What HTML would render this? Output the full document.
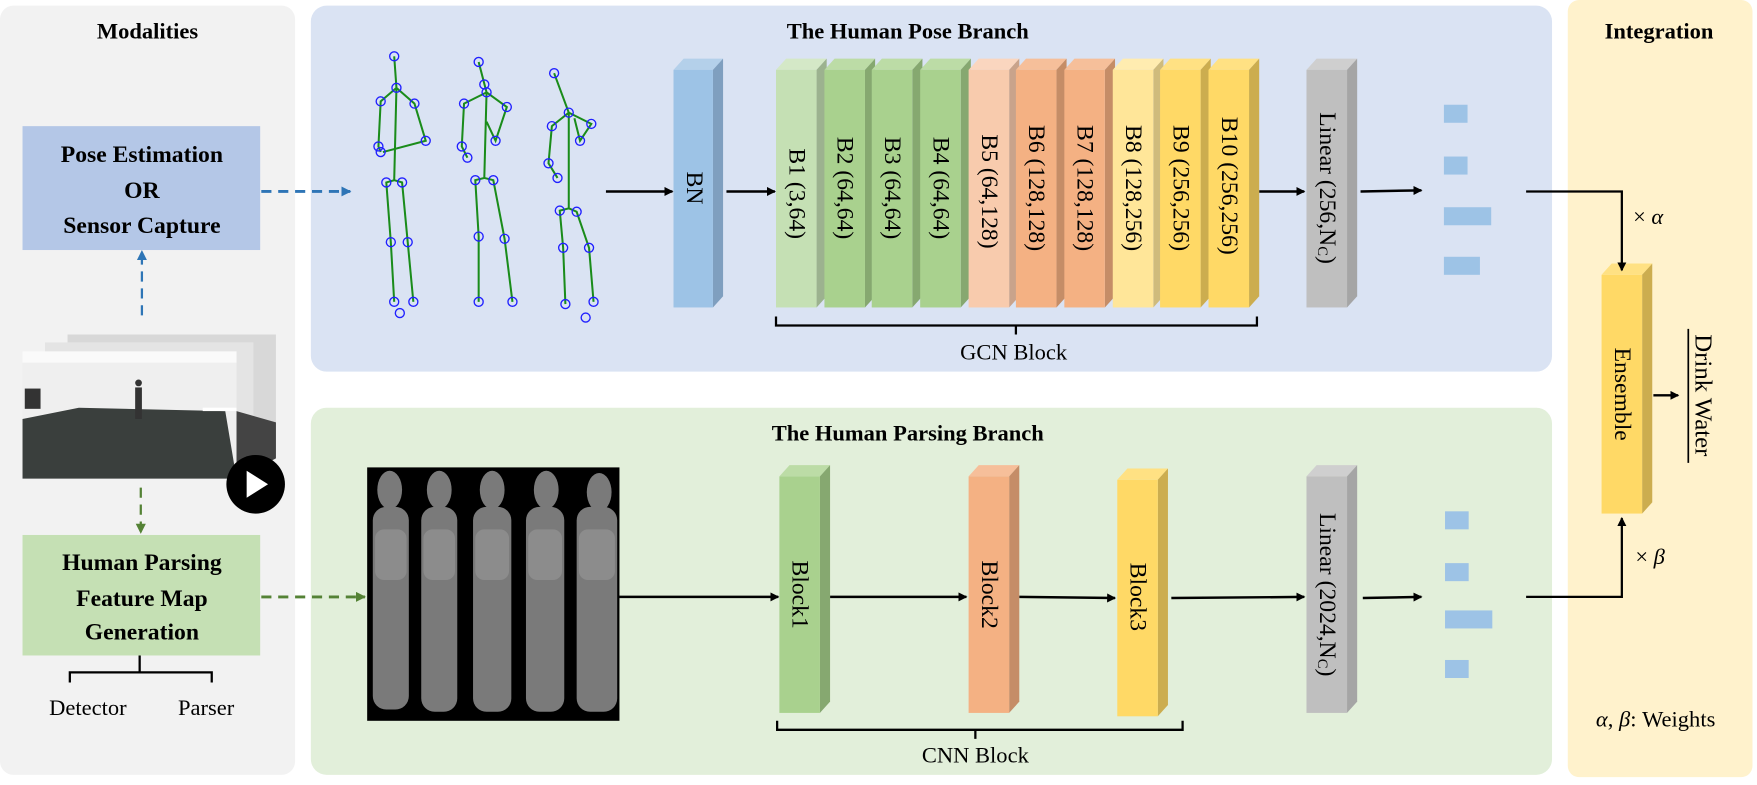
<!DOCTYPE html>
<html><head><meta charset="utf-8"><style>
html,body{margin:0;padding:0;background:#fff;}
svg{display:block;}
svg text{font-family:"Liberation Serif","Times New Roman",serif;}
</style></head><body>
<svg width="1757" height="785" viewBox="0 0 1560 697" preserveAspectRatio="none" xmlns="http://www.w3.org/2000/svg" font-family="'Liberation Serif', serif">
<defs>
<marker id="ak" markerWidth="8" markerHeight="8" refX="7" refY="4" orient="auto" markerUnits="userSpaceOnUse"><path d="M0,0 L8,4 L0,8 z" fill="#000"/></marker>
<marker id="ab" markerWidth="9" markerHeight="9" refX="8" refY="4.5" orient="auto" markerUnits="userSpaceOnUse"><path d="M0,0 L9,4.5 L0,9 z" fill="#2e75b6"/></marker>
<marker id="ag" markerWidth="9" markerHeight="9" refX="8" refY="4.5" orient="auto" markerUnits="userSpaceOnUse"><path d="M0,0 L9,4.5 L0,9 z" fill="#548235"/></marker>
</defs>
<rect x="0" y="0" width="1560" height="697" fill="#fff"/>
<rect x="0" y="5" width="262" height="683" rx="12" fill="#f2f2f2"/>
<rect x="276" y="5" width="1102" height="325" rx="14" fill="#dae3f3"/>
<rect x="276" y="362" width="1102" height="326" rx="14" fill="#e2efda"/>
<rect x="1392" y="0" width="164" height="690" rx="10" fill="#fff2cc"/>
<g font-weight="bold" font-size="20" text-anchor="middle">
<text x="131" y="34">Modalities</text>
<text x="806" y="34">The Human Pose Branch</text>
<text x="1473" y="34">Integration</text>
<text x="806" y="391">The Human Parsing Branch</text>
</g>
<rect x="20" y="112" width="211" height="110" fill="#b4c7e7"/>
<g font-weight="bold" font-size="21" text-anchor="middle">
<text x="126" y="144">Pose Estimation</text>
<text x="126" y="176">OR</text>
<text x="126" y="207">Sensor Capture</text>
</g>
<rect x="20" y="475" width="211" height="107" fill="#c5e0b4"/>
<g font-weight="bold" font-size="21" text-anchor="middle">
<text x="126" y="506">Human Parsing</text>
<text x="126" y="538">Feature Map</text>
<text x="126" y="568">Generation</text>
</g>
<path d="M124,582 V597 M62,606 V597 H188 V606" stroke="#000" stroke-width="2" fill="none"/>
<text x="78" y="635" font-size="20" text-anchor="middle">Detector</text>
<text x="183" y="635" font-size="20" text-anchor="middle">Parser</text>
<!-- video -->
<rect x="60" y="297" width="185" height="110" fill="#d8d8d8"/>
<rect x="40" y="304" width="185" height="110" fill="#e4e4e4"/>
<rect x="20" y="312" width="190" height="113" fill="#efefef"/>
<rect x="20" y="312" width="190" height="10" fill="#fafafa"/>
<path d="M20,372 L70,362 L200,365 L210,425 L20,425 z" fill="#3a3f3d"/>
<path d="M210,365 L245,375 L245,407 L210,425 z" fill="#444"/>
<rect x="22" y="345" width="14" height="18" fill="#333"/>
<rect x="120" y="344" width="6" height="28" fill="#333"/>
<circle cx="123" cy="340" r="3" fill="#333"/>
<rect x="180" y="362" width="30" height="3" fill="#fff"/>
<circle cx="227" cy="430" r="26" fill="#000"/>
<path d="M219,418 L238,430 L219,442 z" fill="#fff"/>
<line x1="232" y1="170" x2="311" y2="170" stroke="#2e75b6" stroke-width="2.5" stroke-dasharray="9,6" marker-end="url(#ab)"/>
<line x1="126" y1="280" x2="126" y2="223" stroke="#2e75b6" stroke-width="2" stroke-dasharray="9,6" marker-end="url(#ab)"/>
<line x1="125" y1="433" x2="125" y2="473" stroke="#548235" stroke-width="2" stroke-dasharray="9,6" marker-end="url(#ag)"/>
<line x1="232" y1="530" x2="324" y2="530" stroke="#548235" stroke-width="2.5" stroke-dasharray="9,6" marker-end="url(#ag)"/>
<g stroke="#1a8c1a" stroke-width="1.8" fill="none">
<path d="M350,50 L352,78 L338,90 L336,130 L338,135 M352,78 L368,92 L378,125 L340,135 M352,78 L350,160 L343,162 L347,215 L350,268 M350,160 L357,162 L362,215 L367,268"/>
<path d="M425,55 L432,82 L412,92 L410,130 L415,140 M432,82 L450,95 L440,125 L432,108 M432,82 L430,158 L422,160 L425,210 L425,268 M430,158 L438,160 L448,212 L455,268"/>
<path d="M492,65 L505,100 L490,112 L487,145 L495,158 M505,100 L525,110 L515,125 L510,105 M505,100 L505,185 L497,187 L500,220 L502,270 M505,185 L512,188 L523,220 L527,268"/>
</g>
<g stroke="#2020ff" stroke-width="1.2" fill="none">
<circle cx="350" cy="50" r="4"/><circle cx="352" cy="78" r="4"/><circle cx="338" cy="90" r="4"/><circle cx="368" cy="92" r="4"/><circle cx="336" cy="130" r="4"/><circle cx="338" cy="135" r="4"/><circle cx="378" cy="125" r="4"/><circle cx="343" cy="162" r="4"/><circle cx="357" cy="162" r="4"/><circle cx="347" cy="215" r="4"/><circle cx="362" cy="215" r="4"/><circle cx="350" cy="268" r="4"/><circle cx="367" cy="268" r="4"/><circle cx="355" cy="278" r="4"/>
<circle cx="425" cy="55" r="4"/><circle cx="432" cy="82" r="4"/><circle cx="412" cy="92" r="4"/><circle cx="450" cy="95" r="4"/><circle cx="410" cy="130" r="4"/><circle cx="415" cy="140" r="4"/><circle cx="440" cy="125" r="4"/><circle cx="422" cy="160" r="4"/><circle cx="438" cy="160" r="4"/><circle cx="425" cy="210" r="4"/><circle cx="448" cy="212" r="4"/><circle cx="425" cy="268" r="4"/><circle cx="455" cy="268" r="4"/><circle cx="430" cy="75" r="4"/>
<circle cx="492" cy="65" r="4"/><circle cx="505" cy="100" r="4"/><circle cx="490" cy="112" r="4"/><circle cx="525" cy="110" r="4"/><circle cx="487" cy="145" r="4"/><circle cx="495" cy="158" r="4"/><circle cx="515" cy="125" r="4"/><circle cx="497" cy="187" r="4"/><circle cx="512" cy="188" r="4"/><circle cx="500" cy="220" r="4"/><circle cx="523" cy="220" r="4"/><circle cx="502" cy="270" r="4"/><circle cx="527" cy="268" r="4"/><circle cx="520" cy="282" r="4"/>
</g>
<g stroke="#000" stroke-width="2.2" marker-end="url(#ak)">
<line x1="538" y1="170" x2="597" y2="170"/>
<line x1="645" y1="170" x2="688" y2="170"/>
<line x1="1118" y1="170" x2="1158" y2="170"/>
<line x1="1208" y1="170" x2="1262" y2="169"/>
<line x1="550" y1="530" x2="691" y2="530"/>
<line x1="737" y1="530" x2="858" y2="530"/>
<line x1="905" y1="530" x2="990" y2="531"/>
<line x1="1040" y1="531" x2="1158" y2="530"/>
<line x1="1210" y1="531" x2="1262" y2="530"/>
<line x1="1468" y1="351" x2="1490" y2="351"/>
</g>
<polygon points="598,62 607,52 642,52 633,62" fill="#b4d0ea"/>
<polygon points="633,62 642,52 642,263 633,273" fill="#7f9fbf"/>
<rect x="598" y="62" width="35" height="211" fill="#9dc3e6"/>
<g>
<polygon points="689,62 698,52 734,52 725,62" fill="#d4e8c7"/><polygon points="725,62 734,52 734,263 725,273" fill="#9cb28f"/><rect x="689" y="62" width="36" height="211" fill="#c5e0b4"/>
<polygon points="732,62 741,52 777,52 768,62" fill="#bcdca6"/><polygon points="768,62 777,52 777,263 768,273" fill="#86a870"/><rect x="732" y="62" width="36" height="211" fill="#a9d18e"/>
<polygon points="774,62 783,52 819,52 810,62" fill="#bcdca6"/><polygon points="810,62 819,52 819,263 810,273" fill="#86a870"/><rect x="774" y="62" width="36" height="211" fill="#a9d18e"/>
<polygon points="817,62 826,52 862,52 853,62" fill="#bcdca6"/><polygon points="853,62 862,52 862,263 853,273" fill="#86a870"/><rect x="817" y="62" width="36" height="211" fill="#a9d18e"/>
<polygon points="860,62 869,52 905,52 896,62" fill="#fad6bf"/><polygon points="896,62 905,52 905,263 896,273" fill="#c9a38b"/><rect x="860" y="62" width="36" height="211" fill="#f8cbad"/>
<polygon points="902,62 911,52 947,52 938,62" fill="#f6bf9a"/><polygon points="938,62 947,52 947,263 938,273" fill="#c58d67"/><rect x="902" y="62" width="36" height="211" fill="#f4b183"/>
<polygon points="945,62 954,52 990,52 981,62" fill="#f6bf9a"/><polygon points="981,62 990,52 990,263 981,273" fill="#c58d67"/><rect x="945" y="62" width="36" height="211" fill="#f4b183"/>
<polygon points="988,62 997,52 1033,52 1024,62" fill="#ffecb0"/><polygon points="1024,62 1033,52 1033,263 1024,273" fill="#cfbb7c"/><rect x="988" y="62" width="36" height="211" fill="#ffe699"/>
<polygon points="1030,62 1039,52 1075,52 1066,62" fill="#ffe183"/><polygon points="1066,62 1075,52 1075,263 1066,273" fill="#ccad4f"/><rect x="1030" y="62" width="36" height="211" fill="#ffd966"/>
<polygon points="1073,62 1082,52 1118,52 1109,62" fill="#ffe183"/><polygon points="1109,62 1118,52 1118,263 1109,273" fill="#ccad4f"/><rect x="1073" y="62" width="36" height="211" fill="#ffd966"/>
<polygon points="1160,62 1169,52 1205,52 1196,62" fill="#cfcfcf"/><polygon points="1196,62 1205,52 1205,263 1196,273" fill="#a5a5a5"/><rect x="1160" y="62" width="36" height="211" fill="#bfbfbf"/>
<polygon points="692,423 701,413 737,413 728,423" fill="#bcdca6"/><polygon points="728,423 737,413 737,623 728,633" fill="#86a870"/><rect x="692" y="423" width="36" height="210" fill="#a9d18e"/>
<polygon points="860,423 869,413 905,413 896,423" fill="#f6bf9a"/><polygon points="896,423 905,413 905,623 896,633" fill="#c58d67"/><rect x="860" y="423" width="36" height="210" fill="#f4b183"/>
<polygon points="992,426 1001,416 1037,416 1028,426" fill="#ffe183"/><polygon points="1028,426 1037,416 1037,626 1028,636" fill="#ccad4f"/><rect x="992" y="426" width="36" height="210" fill="#ffd966"/>
<polygon points="1160,423 1169,413 1205,413 1196,423" fill="#cfcfcf"/><polygon points="1196,423 1205,413 1205,623 1196,633" fill="#a5a5a5"/><rect x="1160" y="423" width="36" height="210" fill="#bfbfbf"/>
<polygon points="1422,244 1431,234 1467,234 1458,244" fill="#ffe183"/><polygon points="1458,244 1467,234 1467,446 1458,456" fill="#ccad4f"/><rect x="1422" y="244" width="36" height="212" fill="#ffd966"/>
</g>
<g font-size="21" text-anchor="middle" dominant-baseline="central">
<text transform="translate(616,167) rotate(90)">BN</text>
<text transform="translate(707,172) rotate(90)">B1 (3,64)</text>
<text transform="translate(750,167) rotate(90)">B2 (64,64)</text>
<text transform="translate(792,167) rotate(90)">B3 (64,64)</text>
<text transform="translate(835,167) rotate(90)">B4 (64,64)</text>
<text transform="translate(878,170) rotate(90)">B5 (64,128)</text>
<text transform="translate(920,167) rotate(90)">B6 (128,128)</text>
<text transform="translate(963,167) rotate(90)">B7 (128,128)</text>
<text transform="translate(1006,167) rotate(90)">B8 (128,256)</text>
<text transform="translate(1048,167) rotate(90)">B9 (256,256)</text>
<text transform="translate(1091,165) rotate(90)">B10 (256,256)</text>
<text transform="translate(1178,167) rotate(90)">Linear (256,N<tspan font-size="13" dy="4">C</tspan><tspan dy="-4">)</tspan></text>
<text transform="translate(710,528) rotate(90)">Block1</text>
<text transform="translate(878,528) rotate(90)">Block2</text>
<text transform="translate(1010,530) rotate(90)">Block3</text>
<text transform="translate(1178,528) rotate(90)">Linear (2024,N<tspan font-size="13" dy="4">C</tspan><tspan dy="-4">)</tspan></text>
<text transform="translate(1440,350) rotate(90)">Ensemble</text>
<text transform="translate(1512,351) rotate(90)" font-size="22">Drink Water</text>
</g>
<line x1="1499" y1="292" x2="1499" y2="411" stroke="#000" stroke-width="1.5"/>
<path d="M689,281 V289 H1116 V281 M902,289 V297" stroke="#000" stroke-width="2" fill="none"/>
<text x="900" y="319" font-size="20" text-anchor="middle">GCN Block</text>
<path d="M690,640 V648 H1050 V640 M866,648 V656" stroke="#000" stroke-width="2" fill="none"/>
<text x="866" y="677" font-size="20" text-anchor="middle">CNN Block</text>
<g fill="#9dc3e6">
<rect x="1282" y="93" width="21" height="16"/><rect x="1282" y="139" width="21" height="16"/><rect x="1282" y="184" width="42" height="16"/><rect x="1282" y="228" width="32" height="16"/>
<rect x="1283" y="454" width="21" height="16"/><rect x="1283" y="500" width="21" height="16"/><rect x="1283" y="542" width="42" height="16"/><rect x="1283" y="586" width="21" height="16"/>
</g>
<path d="M1355,170 H1440 V240" stroke="#000" stroke-width="2" fill="none" marker-end="url(#ak)"/>
<path d="M1355,530 H1440 V460" stroke="#000" stroke-width="2" fill="none" marker-end="url(#ak)"/>
<text x="1450" y="199" font-size="20">× <tspan font-style="italic">α</tspan></text>
<text x="1452" y="501" font-size="20">× <tspan font-style="italic">β</tspan></text>
<text x="1470" y="645" font-size="20" text-anchor="middle"><tspan font-style="italic">α</tspan>, <tspan font-style="italic">β</tspan>: Weights</text>
<rect x="326" y="415" width="224" height="225" fill="#000"/>
<g fill="#7a7a7a">
<ellipse cx="346" cy="435" rx="11" ry="17"/><rect x="331" y="450" width="32" height="180" rx="12"/>
<ellipse cx="390" cy="435" rx="11" ry="17"/><rect x="374" y="450" width="32" height="182" rx="12"/>
<ellipse cx="437" cy="435" rx="11" ry="17"/><rect x="420" y="450" width="34" height="182" rx="12"/>
<ellipse cx="485" cy="435" rx="11" ry="17"/><rect x="467" y="450" width="34" height="182" rx="12"/>
<ellipse cx="532" cy="437" rx="11" ry="17"/><rect x="512" y="450" width="36" height="182" rx="12"/>
</g>
<g fill="#8c8c8c">
<rect x="333" y="470" width="28" height="45" rx="8"/><rect x="376" y="470" width="28" height="45" rx="8"/><rect x="422" y="470" width="30" height="45" rx="8"/><rect x="469" y="470" width="30" height="45" rx="8"/><rect x="514" y="470" width="32" height="45" rx="8"/>
</g>
</svg>
</body></html>
